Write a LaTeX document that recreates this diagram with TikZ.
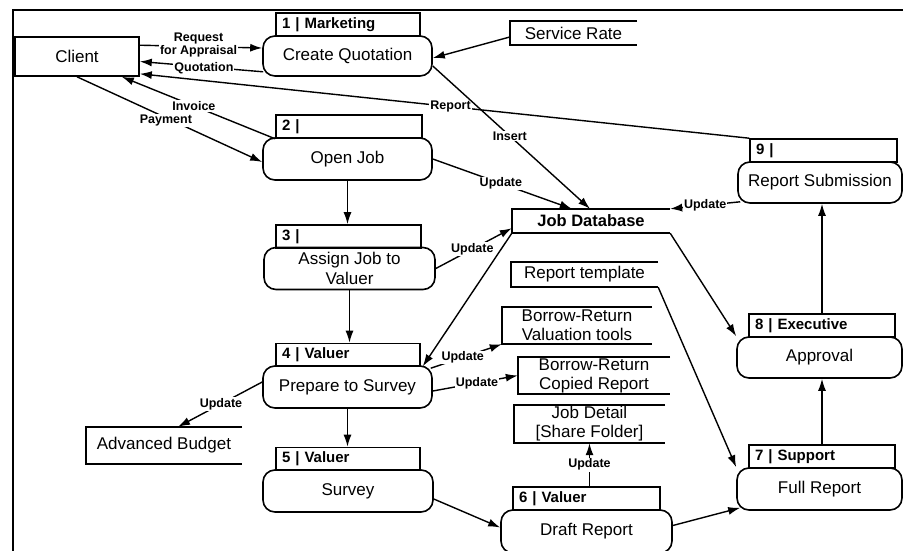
\documentclass[tikz,border=0pt]{standalone}
\usepackage{fontspec}
\setmainfont{Liberation Sans}
\usetikzlibrary{arrows.meta,calc}

\tikzset{
  every node/.style={inner sep=0pt},
  box/.style={draw, line width=1.6pt},
  hdr/.style={box, minimum height=23pt, text width=#1, inner xsep=6pt,
    align=left, font=\fontsize{15}{17}\selectfont\bfseries},
  proc/.style={box, rounded corners=12pt, align=center,
    font=\fontsize{17}{20}\selectfont},
  store/.style={align=center, font=\fontsize{17}{19}\selectfont},
  lbl/.style={fill=white, inner sep=1pt, align=center,
    font=\fontsize{12.5}{15}\selectfont\bfseries},
  flow/.style={line width=1.4pt, -{Latex[length=12pt,width=8pt]}},
}

\begin{document}
\begin{tikzpicture}[x=1pt, y=-1pt]
\useasboundingbox (0,0) rectangle (903,550);
\fill[white] (0,0) rectangle (903,550);

% outer frame
\draw[line width=1.6pt] (13,560) -- (13,10) -- (910,10);

% external entity
\node[box, minimum width=124pt, minimum height=39pt, font=\fontsize{17}{20}\selectfont] (client) at (77,56.5) {Client};

% processes: header strip + rounded body
\node[hdr=132pt] (h1) at (348,24.5) {1 | Marketing};
\node[proc, minimum width=169pt, minimum height=40pt] (b1) at (347.5,56) {Create Quotation};

\node[hdr=134pt] (h2) at (349,126.5) {2 |};
\node[proc, minimum width=169pt, minimum height=42pt] (b2) at (347.5,159) {Open Job};

\node[hdr=133pt] (h3) at (348.5,236.5) {3 |};
\node[proc, minimum width=171pt, minimum height=42pt] (b3) at (349.5,268.5) {Assign Job to\\Valuer};

\node[hdr=132pt] (h4) at (348,355) {4 | Valuer};
\node[proc, minimum width=169pt, minimum height=42pt] (b4) at (347.5,387) {Prepare to Survey};

\node[hdr=132pt] (h5) at (348,459) {5 | Valuer};
\node[proc, minimum width=170pt, minimum height=42pt] (b5) at (348,491) {Survey};

\node[hdr=135pt] (h6) at (586.5,498.5) {6 | Valuer};
\node[proc, minimum width=171pt, minimum height=43pt] (b6) at (586.5,531.5) {Draft Report};

\node[hdr=134pt] (h7) at (822,456.5) {7 | Support};
\node[proc, minimum width=165pt, minimum height=42pt] (b7) at (819.5,489) {Full Report};

\node[hdr=134pt] (h8) at (822,325.5) {8 | Executive};
\node[proc, minimum width=165pt, minimum height=41pt] (b8) at (819.5,357.5) {Approval};

\node[hdr=135pt] (h9) at (823.5,150.5) {9 |};
\node[proc, minimum width=164pt, minimum height=41pt] (b9) at (820,182.5) {Report Submission};

% data stores (open on the right)
\node[store, minimum width=127pt, minimum height=24pt] (sr) at (573.5,33) {Service Rate};
\node[store, minimum width=158pt, minimum height=24pt, font=\fontsize{16.5}{19}\selectfont\bfseries] (jdb) at (591,221) {Job Database};
\node[store, minimum width=147pt, minimum height=25pt] (rt) at (584.5,274.5) {Report template};
\node[store, minimum width=150pt, minimum height=37pt] (vt) at (577,325.5) {Borrow-Return\\Valuation tools};
\node[store, minimum width=152pt, minimum height=37pt] (cr) at (594,375.5) {Borrow-Return\\Copied Report};
\node[store, minimum width=151pt, minimum height=38pt] (jd) at (589.5,424) {Job Detail\\{[Share Folder]}};
\node[store, minimum width=156pt, minimum height=37pt] (ab) at (164,445.5) {Advanced Budget};

\foreach \s in {sr,jdb,rt,vt,cr,jd,ab}
  \draw[line width=1.6pt] (\s.north east) -- (\s.north west) -- (\s.south west) -- (\s.south east);

% flows around the client
\draw[flow] ($(client.north east)+(0,9)$) -- node[lbl, pos=.48, yshift=1.5pt, font=\fontsize{12.5}{13}\selectfont\bfseries] (lreq) {Request\\for Appraisal} ($(b1.west)+(0,-8)$);
\draw[flow] ($(b1.south west)+(1,-5)$) -- node[lbl, pos=.48, yshift=-1.5pt] (lquo) {Quotation} ($(client.east)+(0,5)$);
\draw[flow] (h9.north west) -- node[lbl, pos=.49] (lrep) {Report} ($(client.south east)+(0,-3)$);
\draw[flow] (h2.south west) -- node[lbl, pos=.53] (linv) {Invoice} ($(client.south east)+(-18,0)$);
\draw[flow] (client.south) -- node[lbl, pos=.48, yshift=-3pt] (lpay) {Payment} ($(b2.west)+(0,3)$);

% quotation and job database flows
\draw[flow] ($(sr.west)+(0,4)$) -- ($(b1.east)+(0,2)$);
\draw[flow] ($(b1.east)+(0,10)$) -- node[lbl, pos=.49] (lins) {Insert} ($(jdb.north)+(-1,0)$);
\draw[flow] (b2.east) -- node[lbl, pos=.49] (lu1) {Update} ($(jdb.north west)+(60,0)$);
\draw[flow] (b3.east) -- node[lbl, pos=.48] (lu2) {Update} ($(jdb.south west)+(0,-5)$);
\draw[flow] (jdb.south west) -- ($(h4.south east)+(2,-1)$);
\draw[flow] ($(b9.south west)+(3,-2)$) -- node[lbl, pos=.5] (lu7) {Update} (jdb.north east);

% valuer flows
\draw[flow] ($(b4.north east)+(-2,3)$) -- node[lbl, pos=.45] (lu3) {Update} (vt.south west);
\draw[flow] ($(b4.east)+(0,4)$) -- node[lbl, pos=.52] (lu4) {Update} (cr.west);
\draw[flow] ($(b4.west)+(0,-5)$) -- node[lbl, pos=.49] (lu5) {Update} ($(ab.north)+(14,0)$);

% main sequence
\draw[flow] (b2.south) -- (b2.south |- h3.north);
\draw[flow] (b3.south) -- (b3.south |- h4.north);
\draw[flow] (b4.south) -- (b4.south |- h5.north);
\draw[flow] ($(b5.east)+(0,8)$) -- ($(b6.west)+(0,-4)$);
\draw[flow] ($(b6.east)+(0,-6)$) -- ($(b7.south west)+(4,-3)$);
\draw[flow] (h6.north -| jd.south) -- node[lbl, pos=.5] (lu6) {Update} (jd.south);
\draw[flow] (rt.south east) -- (b7.north west);
\draw[flow] (jdb.south east) -- (b8.north west);
\draw[flow] (h7.north) -- (h7.north |- b8.south);
\draw[flow] (h8.north) -- (h8.north |- b9.south);
\end{tikzpicture}
\end{document}
